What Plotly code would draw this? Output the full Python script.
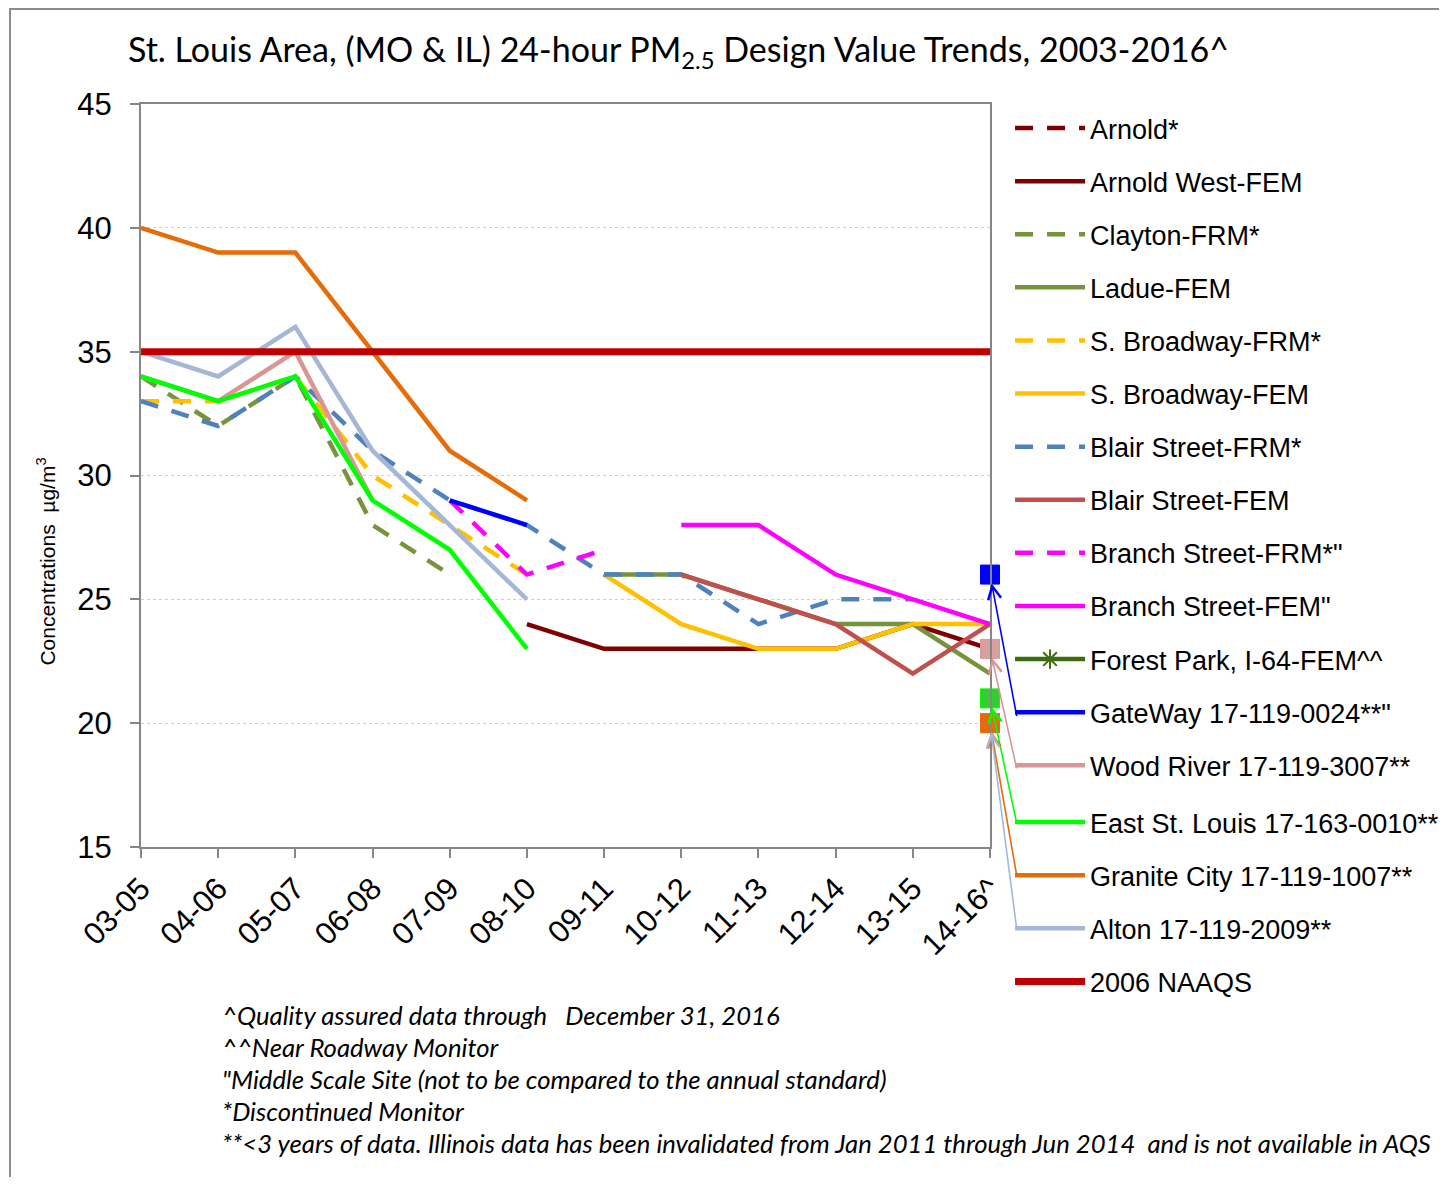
import plotly.graph_objects as go

# ---- data -------------------------------------------------------------
periods = ['03-05', '04-06', '05-07', '06-08', '07-09', '08-10',
           '09-11', '10-12', '11-13', '12-14', '13-15', '14-16^']

arnold         = [None, None, None, None, None, None, None, None, None, None, None, None]
arnold_west    = [None, None, None, None, None, 24, 23, 23, 23, 23, 24, 23]
clayton_frm    = [34, 32, 34, 28, 26, None, None, None, None, None, None, None]
ladue_fem      = [None, None, None, None, None, None, 26, 26, 25, 24, 24, 22]
broadway_frm   = [33, 33, 34, 30, 28, 26, None, None, None, None, None, None]
broadway_fem   = [None, None, None, None, None, None, 26, 24, 23, 23, 24, 24]
blair_frm      = [33, 32, 34, 31, 29, 28, 26, 26, 24, 25, 25, None]
blair_fem      = [None, None, None, None, None, None, None, 26, 25, 24, 22, 24]
branch_frm     = [None, None, None, None, 29, 26, 27, None, None, None, None, None]
branch_fem     = [None, None, None, None, None, None, None, 28, 28, 26, 25, 24]
forest_park    = [None, None, None, None, None, None, None, None, None, None, None, 23]
gateway        = [None, None, None, None, 29, 28, None, None, None, None, None, 26]
wood_river     = [34, 33, 35, 29, None, None, None, None, None, None, None, 23]
east_stlouis   = [34, 33, 34, 29, 27, 23, None, None, None, None, None, 21]
granite_city   = [40, 39, 39, 35, 31, 29, None, None, None, None, None, 20]
alton          = [35, 34, 36, 31, 28, 25, None, None, None, None, None, 20]
naaqs_2006     = [35, 35, 35, 35, 35, 35, 35, 35, 35, 35, 35, 35]

footnotes = [
    "^Quality assured data through   December 31, 2016",
    "^^Near Roadway Monitor",
    "\"Middle Scale Site (not to be compared to the annual standard)",
    "*Discontinued Monitor",
    "**<3 years of data. Illinois data has been invalidated from Jan 2011 through Jun 2014  and is not available in AQS",
]

# ---- series styling ---------------------------------------------------
DASH = "18px,14px"
series = [
    ("Arnold*", arnold, "#7F0000", DASH, 4.5, "legend"),
    ("Arnold West-FEM", arnold_west, "#7F0000", "solid", 4.5, "legend"),
    ("Clayton-FRM*", clayton_frm, "#77933C", DASH, 4.5, "legend"),
    ("Ladue-FEM", ladue_fem, "#77933C", "solid", 4.5, "legend"),
    ("S. Broadway-FRM*", broadway_frm, "#FFC000", DASH, 4.5, "legend"),
    ("S. Broadway-FEM", broadway_fem, "#FFC000", "solid", 4.5, "legend"),
    ("Blair Street-FRM*", blair_frm, "#4F81BD", DASH, 4.5, "legend"),
    ("Blair Street-FEM", blair_fem, "#C0504D", "solid", 4.5, "legend"),
    ("Branch Street-FRM*\"", branch_frm, "#FF00FF", DASH, 4.5, "legend"),
    ("Branch Street-FEM\"", branch_fem, "#FF00FF", "solid", 4.5, "legend"),
    ("Forest Park, I-64-FEM^^", forest_park, "#3F6B0F", "solid", 4.5, "legend"),
    ("GateWay 17-119-0024**\"", gateway, "#0000FF", "solid", 4.5, "legend"),
    ("Wood River 17-119-3007**", wood_river, "#D99694", "solid", 4.5, "legend"),
    ("East St. Louis 17-163-0010**", east_stlouis, "#00FF00", "solid", 4.5, "legend2"),
    ("Granite City 17-119-1007**", granite_city, "#E46C0A", "solid", 4.5, "legend2"),
    ("Alton 17-119-2009**", alton, "#A5B7D6", "solid", 4.5, "legend2"),
    ("2006 NAAQS", naaqs_2006, "#C00000", "solid", 7, "legend2"),
]

# last-period single values shown as square markers (alton sits under granite city)
end_markers = [
    ("Alton 17-119-2009**", alton, "#A5B7D6", "#A5B7D6"),
    ("GateWay 17-119-0024**\"", gateway, "#0000FF", "#0000FF"),
    ("Wood River 17-119-3007**", wood_river, "#D9A0A0", "#D99694"),
    ("East St. Louis 17-163-0010**", east_stlouis, "#33CC33", "#00FF00"),
    ("Granite City 17-119-1007**", granite_city, "#E46C0A", "#E46C0A"),
]

# arrows from legend swatches to markers: (series, colour, tail dx, tail dy in px)
arrows = [
    (gateway, "#0000FF", 27, 143),
    (wood_river, "#D99694", 27, 121),
    (east_stlouis, "#00FF00", 27, 126),
    (granite_city, "#E46C0A", 27, 154),
    (alton, "#A5B7D6", 27, 208),
]

fig = go.Figure()

for name, vals, color, dash, width, leg in series:
    if name.startswith("Forest Park"):
        fig.add_trace(go.Scatter(
            x=periods, y=vals, name=name, legendgroup=name, legend=leg,
            mode="lines+markers", cliponaxis=False,
            line=dict(color=color, width=width, dash=dash),
            marker=dict(symbol="asterisk-open", size=16, line=dict(color=color, width=2)),
        ))
    else:
        fig.add_trace(go.Scatter(
            x=periods, y=vals, name=name, legendgroup=name, legend=leg,
            mode="lines",
            line=dict(color=color, width=width, dash=dash),
        ))

for name, vals, fill, edge in end_markers:
    fig.add_trace(go.Scatter(
        x=periods[-1:], y=vals[-1:], mode="markers", legendgroup=name,
        showlegend=False, cliponaxis=False,
        marker=dict(symbol="square", size=19, color=fill, line=dict(color=edge, width=1)),
    ))

for vals, color, dx, dy in arrows:
    fig.add_annotation(
        x=periods[-1], y=vals[-1], xref="x", yref="y",
        ax=dx, ay=dy, showarrow=True, text="",
        arrowhead=5, arrowsize=1.6, arrowwidth=1.6, arrowcolor=color, standoff=9,
    )

# axis title (placed off-centre as in the original)
fig.add_annotation(
    text="Concentrations  µg/m<sup>3</sup>", textangle=-90,
    xref="paper", yref="paper", x=-0.112, y=0.384, xanchor="center", yanchor="middle",
    showarrow=False,
    font=dict(family="Liberation Sans, Arial", size=21, color="black"),
)

for i, line in enumerate(footnotes):
    fig.add_annotation(
        text=f"<i>{line}</i>", xref="paper", yref="paper",
        x=0.093, y=-0.226 - i * 0.0431, xanchor="left", yanchor="middle",
        showarrow=False, font=dict(family="Lato", size=25.7, color="black"),
    )

# slide frame
fig.add_shape(type="rect", xref="paper", yref="paper",
              x0=-0.1543, x1=1.7, y0=-0.6, y1=1.1279,
              line=dict(color="#8C8C8C", width=2), layer="below")

legend_style = dict(
    xanchor="left", yanchor="top",
    traceorder="grouped", tracegroupgap=15, itemwidth=70,
    font=dict(family="Liberation Sans, Arial", size=27, color="black"),
    bgcolor="rgba(0,0,0,0)",
)

fig.update_layout(
    width=1431, height=1169,
    margin=dict(l=133, r=449, t=96, b=330, autoexpand=False),
    paper_bgcolor="white", plot_bgcolor="white",
    title=dict(
        text="St. Louis Area, (MO & IL) 24-hour PM<sub>2.5</sub> Design Value Trends, 2003-2016^",
        x=120 / 1431, xanchor="left", xref="container",
        y=1 - 42 / 1169, yanchor="middle", yref="container",
        font=dict(family="Lato", size=34, color="black"),
    ),
    xaxis=dict(
        type="category", range=[0, 11], tickangle=-45,
        showline=True, linecolor="#868686", linewidth=2, mirror=True,
        ticks="outside", ticklen=9, tickcolor="#868686", tickwidth=2,
        showgrid=False, zeroline=False,
        tickfont=dict(family="Liberation Sans, Arial", size=31, color="black"),
    ),
    yaxis=dict(
        range=[15, 45], dtick=5,
        showline=True, linecolor="#868686", linewidth=2, mirror=True,
        ticks="outside", ticklen=9, tickcolor="#868686", tickwidth=2,
        ticklabelstandoff=12,
        showgrid=True, gridcolor="#CFCFCF", griddash="dot", gridwidth=1,
        zeroline=False,
        tickfont=dict(family="Liberation Sans, Arial", size=31, color="black"),
    ),
    legend=dict(x=1.0236, y=1.0, **legend_style),
    legend2=dict(x=1.0236, y=0.0659, **legend_style),
    showlegend=True,
)

fig.write_html("out.html")
